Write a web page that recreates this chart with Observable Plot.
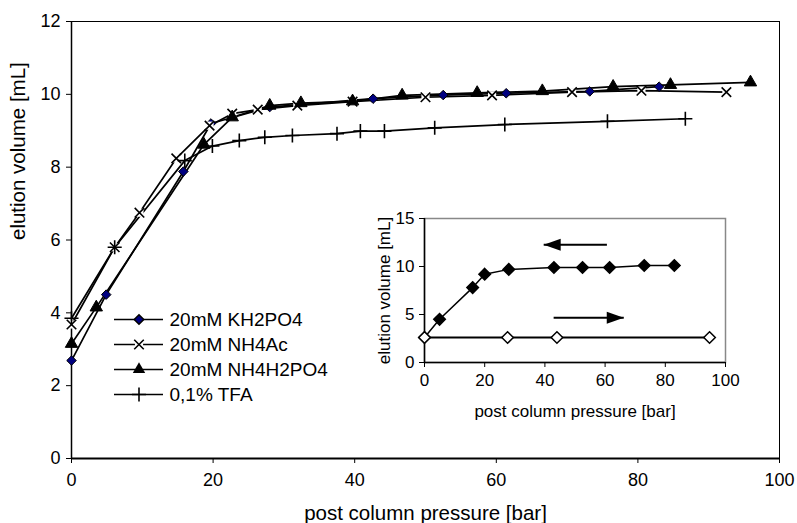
<!DOCTYPE html>
<html><head><meta charset="utf-8">
<script src="https://cdn.jsdelivr.net/npm/d3@7"></script>
<script src="https://cdn.jsdelivr.net/npm/@observablehq/plot@0.6"></script>
<style>
body{margin:0;background:#fff;}
#wrap{position:relative;width:797px;height:523px;font-family:"Liberation Sans",Arial,sans-serif;}
#wrap svg{position:absolute;overflow:visible;}
</style></head><body><div id="wrap"></div>
<script>
// ---- data ----
const seriesNames = ["20mM KH2PO4", "20mM NH4Ac", "20mM NH4H2PO4", "0,1% TFA"];
const kh2po4X = [0, 4.9, 15.8, 19.7, 28, 42.6, 52.5, 61.4, 73.2, 83];
const kh2po4Y = [2.69, 4.5, 7.88, 9.2, 9.65, 9.88, 9.98, 10.03, 10.08, 10.21];
const nh4acX = [0, 6.1, 9.6, 14.8, 19.5, 22.7, 26.3, 31.9, 39.7, 50, 59.4, 70.7, 80.5, 92.5];
const nh4acY = [3.68, 5.8, 6.75, 8.24, 9.14, 9.47, 9.58, 9.69, 9.8, 9.92, 9.97, 10.06, 10.1, 10.06];
const nh4h2po4X = [0, 3.5, 18.7, 22.7, 28, 32.4, 39.7, 46.7, 57.3, 66.5, 76.5, 84.6, 95.9];
const nh4h2po4Y = [3.15, 4.15, 8.62, 9.37, 9.69, 9.76, 9.81, 9.97, 10.04, 10.09, 10.21, 10.26, 10.33];
const tfaX = [0, 6.1, 16, 19.9, 23.7, 27.3, 31.2, 37.5, 40.8, 44.2, 51.3, 61.2, 75.7, 86.7];
const tfaY = [3.85, 5.8, 8.18, 8.58, 8.73, 8.82, 8.87, 8.92, 8.99, 8.99, 9.08, 9.17, 9.26, 9.33];
const xTicks = [0, 20, 40, 60, 80, 100];
const yTicks = [0, 2, 4, 6, 8, 10, 12];

// inset
const insetDownX = [0, 5, 16, 20, 28, 43, 52.5, 61.5, 73, 83];
const insetDownY = [2.6, 4.5, 7.8, 9.2, 9.7, 9.9, 9.9, 9.9, 10.1, 10.1];
const insetUpX = [0, 27.6, 44, 94.7];
const insetUpY = [2.6, 2.6, 2.6, 2.6];
const insetXTicks = [0, 20, 40, 60, 80, 100];
const insetYTicks = [0, 5, 10, 15];
const arrowTailX = [60.6, 42.9];
const arrowTipX = [39.6, 66.2];
const arrowY = [12.26, 4.66];
const arrowRotate = [180, 0];

const xLabel = "post column pressure [bar]";
const yLabel = "elution volume [mL]";

// ---- build ----
const xs = [kh2po4X, nh4acX, nh4h2po4X, tfaX];
const ys = [kh2po4Y, nh4acY, nh4h2po4Y, tfaY];
const rows = seriesNames.flatMap((s, i) => xs[i].map((x, j) => ({series: s, x, y: ys[i][j]})));
const bySeries = s => rows.filter(d => d.series === s);

const font = '"Liberation Sans", Arial, sans-serif';
const wrap = document.getElementById("wrap");

const main = Plot.plot({
  width: 797, height: 523,
  marginLeft: 71, marginRight: 18, marginTop: 21, marginBottom: 65,
  style: {fontFamily: font, fontSize: "18px", background: "transparent", color: "black"},
  x: {domain: [0, 100]},
  y: {domain: [0, 12]},
  marks: [
    Plot.frame({stroke: "black", strokeWidth: 1}),
    Plot.axisX(xTicks, {tickSize: 5, tickPadding: 10, fontSize: 18, label: null}),
    Plot.axisY(yTicks, {tickSize: 5, tickPadding: 6, fontSize: 18, label: null}),
    Plot.text([xLabel], {frameAnchor: "bottom", dy: 61, lineAnchor: "bottom", fontSize: 20.5}),
    Plot.text([yLabel], {frameAnchor: "left", dx: -53, rotate: -90, fontSize: 20.5}),
    Plot.ruleY([0], {stroke: "black", strokeWidth: 2}),
    Plot.ruleX([0], {stroke: "black", strokeWidth: 1.5}),
    Plot.line(rows, {x: "x", y: "y", z: "series", stroke: "black", strokeWidth: 1.7}),
    Plot.dot(bySeries(seriesNames[0]), {x: "x", y: "y", symbol: "diamond2", r: 4.3, fill: "#000080", stroke: "black", strokeWidth: 1}),
    Plot.dot(bySeries(seriesNames[1]), {x: "x", y: "y", symbol: "square", r: 4.6, fill: "white", stroke: "none"}),
    Plot.dot(bySeries(seriesNames[1]), {x: "x", y: "y", symbol: "times", r: 4.4, fill: "none", stroke: "black", strokeWidth: 1.6}),
    Plot.dot(bySeries(seriesNames[2]), {x: "x", y: "y", symbol: "triangle", r: 4.6, fill: "black", stroke: "black", strokeWidth: 1}),
    Plot.dot(bySeries(seriesNames[3]), {x: "x", y: "y", symbol: "plus", r: 4.6, fill: "none", stroke: "black", strokeWidth: 1.6})
  ]
});
main.style.left = "0px"; main.style.top = "0px";
wrap.appendChild(main);

// legend
const legendRows = seriesNames.map(s => ({series: s}));
const legend = Plot.plot({
  width: 220, height: 140, margin: 0,
  style: {fontFamily: font, background: "transparent", color: "black"},
  x: {domain: [0, 1], range: [14, 63], axis: null},
  y: {type: "point", domain: seriesNames, range: [20.7, 122.7], axis: null},
  marks: [
    Plot.ruleY(legendRows, {y: "series", x1: 0, x2: 1, stroke: "black", strokeWidth: 1.7}),
    Plot.dot(legendRows.filter(d => d.series === seriesNames[1]), {x: 0.5, y: "series", symbol: "square", r: 4.6, fill: "white"}),
    Plot.dot(legendRows.filter(d => d.series === seriesNames[0]), {x: 0.5, y: "series", symbol: "diamond2", r: 4.3, fill: "#000080", stroke: "black"}),
    Plot.dot(legendRows.filter(d => d.series === seriesNames[1]), {x: 0.5, y: "series", symbol: "times", r: 4.4, fill: "none", stroke: "black", strokeWidth: 1.6}),
    Plot.dot(legendRows.filter(d => d.series === seriesNames[2]), {x: 0.5, y: "series", symbol: "triangle", r: 4.6, fill: "black"}),
    Plot.dot(legendRows.filter(d => d.series === seriesNames[3]), {x: 0.5, y: "series", symbol: "plus", r: 4.6, fill: "none", stroke: "black", strokeWidth: 1.6}),
    Plot.text(legendRows, {x: 1, y: "series", text: "series", dx: 6, textAnchor: "start", fontSize: 19})
  ]
});
legend.style.left = "100px"; legend.style.top = "285px";
wrap.appendChild(legend);

// inset
const arrowHead = {draw(ctx) { ctx.moveTo(0, 0); ctx.lineTo(-17, -6); ctx.lineTo(-17, 6); ctx.closePath(); }};
const arrows = arrowTailX.map((t, i) => ({x1: t, x2: arrowTipX[i], y: arrowY[i], rot: arrowRotate[i]}));
const downRows = insetDownX.map((x, i) => ({x, y: insetDownY[i]}));
const upRows = insetUpX.map((x, i) => ({x, y: insetUpY[i]}));
const inset = Plot.plot({
  width: 370, height: 220,
  marginLeft: 54, marginRight: 15, marginTop: 18, marginBottom: 58,
  style: {fontFamily: font, fontSize: "17px", background: "transparent", color: "black"},
  x: {domain: [0, 100]},
  y: {domain: [0, 15]},
  marks: [
    Plot.frame({stroke: "#888", strokeWidth: 1.5}),
    Plot.axisX(insetXTicks, {tickSize: 5, tickPadding: 6, fontSize: 17, label: xLabel, labelAnchor: "center", labelOffset: 54, labelArrow: "none"}),
    Plot.axisY(insetYTicks, {tickSize: 5, tickPadding: 5, fontSize: 17, label: yLabel, labelAnchor: "center", labelOffset: 47, labelArrow: "none"}),
    Plot.ruleY([0], {stroke: "black", strokeWidth: 1.5}),
    Plot.ruleX([0], {stroke: "black", strokeWidth: 1.5}),
    Plot.line(upRows, {x: "x", y: "y", stroke: "black", strokeWidth: 2}),
    Plot.line(downRows, {x: "x", y: "y", stroke: "black", strokeWidth: 1.5}),
    Plot.dot(downRows, {x: "x", y: "y", symbol: "diamond2", r: 5.2, fill: "black", stroke: "black"}),
    Plot.dot(upRows, {x: "x", y: "y", symbol: "diamond2", r: 5.2, fill: "white", stroke: "black", strokeWidth: 1.5}),
    Plot.link(arrows, {x1: "x1", x2: "x2", y1: "y", y2: "y", stroke: "black", strokeWidth: 2}),
    Plot.dot(arrows, {x: "x2", y: "y", symbol: arrowHead, rotate: "rot", fill: "black", stroke: "none"})
  ]
});
inset.style.left = "370px"; inset.style.top = "200px";
wrap.appendChild(inset);
</script></body></html>
